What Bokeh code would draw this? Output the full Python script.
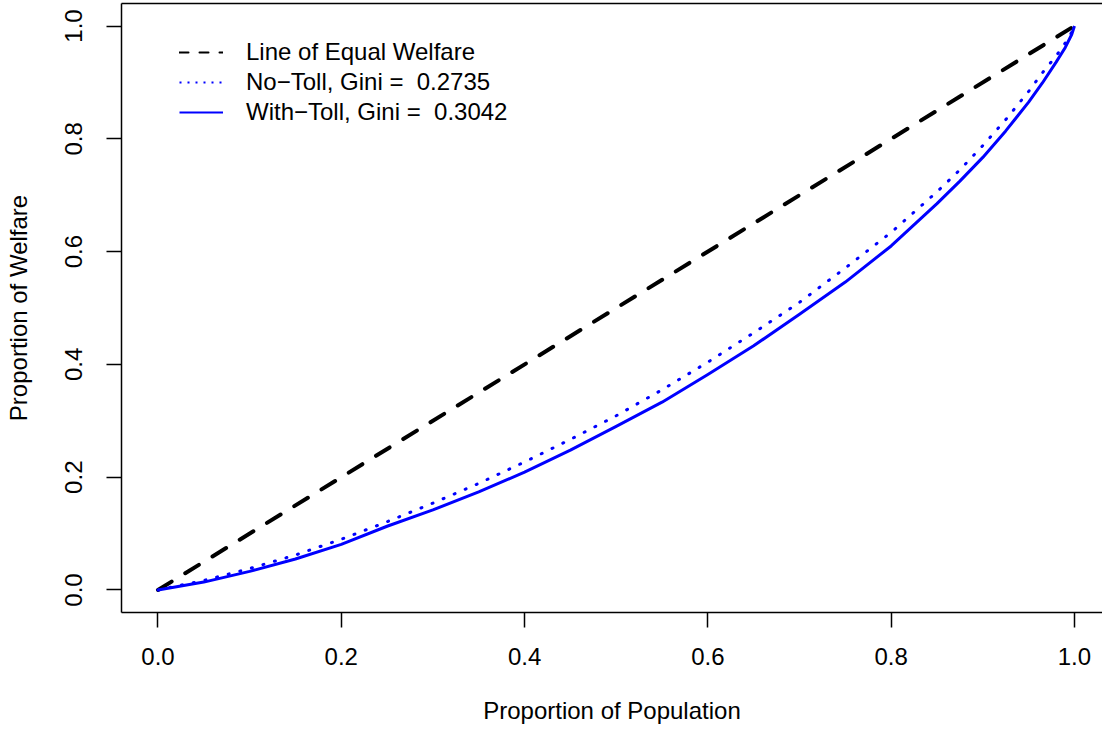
from bokeh.plotting import figure
from bokeh.models import Range1d, FixedTicker, Legend, LegendItem, LinearAxis
from bokeh.embed import file_html
from bokeh.resources import INLINE

# ---- data ----
pop_share = [0.0, 0.05, 0.10, 0.15, 0.20, 0.25, 0.30, 0.35, 0.40, 0.45, 0.50,
             0.55, 0.60, 0.65, 0.70, 0.75, 0.80, 0.85, 0.875, 0.90, 0.925, 0.95,
             0.965, 0.98, 0.99, 0.997, 1.0]
no_toll = [0.0, 0.017, 0.038, 0.062, 0.090, 0.121, 0.154, 0.189, 0.227, 0.267, 0.309,
           0.355, 0.404, 0.456, 0.510, 0.571, 0.634, 0.706, 0.745, 0.788, 0.834, 0.884,
           0.917, 0.947, 0.970, 0.989, 1.0]
with_toll = [0.0, 0.014, 0.033, 0.055, 0.081, 0.113, 0.142, 0.174, 0.209, 0.248, 0.290,
             0.333, 0.382, 0.433, 0.489, 0.546, 0.610, 0.685, 0.725, 0.767, 0.814, 0.865,
             0.899, 0.936, 0.962, 0.985, 1.0]
equal_x = [0.0, 1.0]
equal_y = [0.0, 1.0]

tick_values = [0.0, 0.2, 0.4, 0.6, 0.8, 1.0]
tick_labels = ["0.0", "0.2", "0.4", "0.6", "0.8", "1.0"]

legend_labels = ["Line of Equal Welfare",
                 "No\u2212Toll, Gini =  0.2735",
                 "With\u2212Toll, Gini =  0.3042"]
x_title = "Proportion of Population"
y_title = "Proportion of Welfare"

FONT = "Liberation Sans"
FS = "24px"
NAN = float("nan")

p = figure(width=1102, height=726, output_backend="svg", toolbar_location=None,
           x_range=Range1d(-0.0398, 1.0306), y_range=Range1d(-0.0399, 1.0399),
           min_border_left=121, min_border_right=0, min_border_top=3,
           min_border_bottom=114)
p.background_fill_color = "white"
p.border_fill_color = "white"
p.outline_line_color = None
p.grid.visible = False

for ax in (p.xaxis[0], p.yaxis[0]):
    ax.ticker = FixedTicker(ticks=tick_values)
    ax.major_label_overrides = {v: s for v, s in zip(tick_values, tick_labels)}
    ax.axis_line_color = "black"
    ax.axis_line_width = 1.5
    ax.minor_tick_line_color = None
    ax.major_tick_in = 0
    ax.major_tick_out = 15
    ax.major_tick_line_width = 1.5
    ax.major_tick_line_color = "black"
    ax.major_label_text_font = FONT
    ax.major_label_text_font_size = FS
    ax.major_label_text_color = "black"
    ax.axis_label_text_font = FONT
    ax.axis_label_text_font_size = FS
    ax.axis_label_text_font_style = "normal"
    ax.axis_label_text_color = "black"

p.xaxis.axis_label = x_title
p.yaxis.axis_label = y_title
p.xaxis.major_label_standoff = 20
p.xaxis.axis_label_standoff = 29
p.yaxis.major_label_orientation = "vertical"
p.yaxis.major_label_standoff = 24
p.yaxis.axis_label_standoff = 31

# top edge of the plot box (the right edge lies outside the picture)
top = LinearAxis(ticker=FixedTicker(ticks=[]), axis_line_color="black",
                 axis_line_width=1.5, major_tick_out=0, major_tick_in=0,
                 minor_tick_out=0, minor_tick_in=0, major_label_standoff=0,
                 major_label_text_font_size="0px")
p.add_layout(top, "above")

p.line(equal_x, equal_y, line_color="black", line_width=4, line_dash="16 16",
       line_cap="round")
p.line(pop_share, no_toll, line_color="blue", line_width=3, line_dash="1 11",
       line_cap="round", line_join="round")
p.line(pop_share, with_toll, line_color="blue", line_width=3, line_join="round")

# legend-only renderers (thinner lines, as in the reference legend)
lg1 = p.line([NAN], [NAN], line_color="black", line_width=2, line_dash="9 11",
             line_cap="round")
lg2 = p.line([NAN], [NAN], line_color="blue", line_width=2, line_dash="2 6")
lg3 = p.line([NAN], [NAN], line_color="blue", line_width=2)

legend = Legend(items=[LegendItem(label=legend_labels[0], renderers=[lg1]),
                       LegendItem(label=legend_labels[1], renderers=[lg2]),
                       LegendItem(label=legend_labels[2], renderers=[lg3])],
                location=(58, 485), orientation="vertical")
legend.background_fill_alpha = 0
legend.border_line_color = None
legend.padding = 0
legend.margin = 0
legend.spacing = 0
legend.glyph_width = 44
legend.glyph_height = 30
legend.label_height = 30
legend.label_standoff = 23
legend.label_text_font = FONT
legend.label_text_font_size = FS
legend.label_text_color = "black"
legend.label_text_baseline = "middle"
p.add_layout(legend, "center")

open("out.html", "w").write(file_html(p, INLINE))
